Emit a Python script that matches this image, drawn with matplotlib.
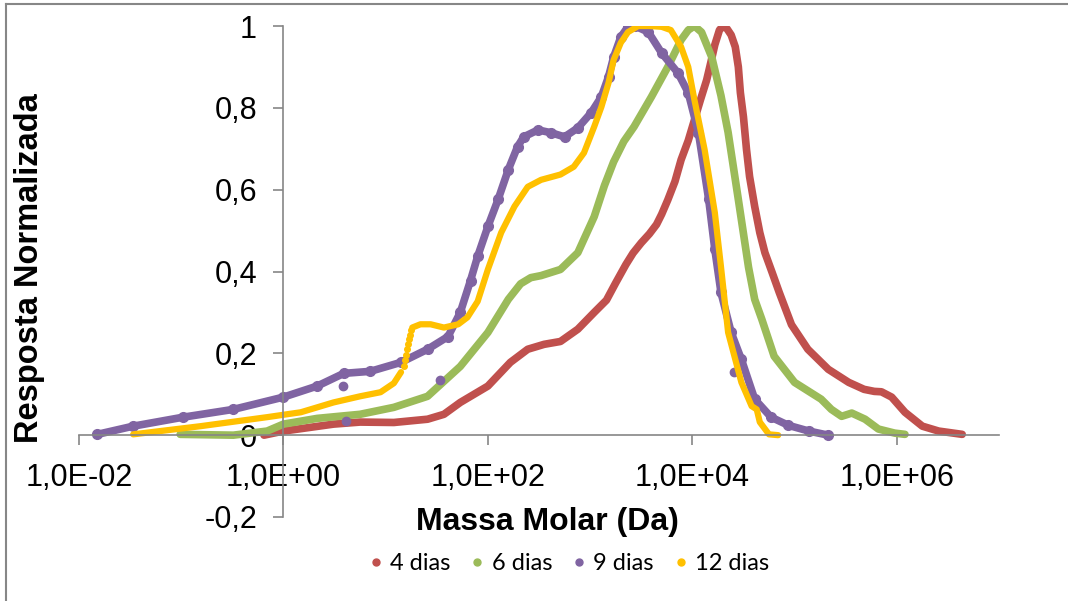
import numpy as np
import matplotlib
matplotlib.use("Agg")
import matplotlib.pyplot as plt
from matplotlib.lines import Line2D
from matplotlib.ticker import FixedLocator, NullLocator

# curvas de distribuicao de massa molar (log10 da massa, resposta normalizada)
lm_4 = [-0.19, 0.0, 0.49, 0.75, 1.08, 1.41, 1.57, 1.73, 2.0, 2.22, 2.39, 2.55, 2.71,
        2.88, 3.04, 3.16, 3.25, 3.35, 3.42, 3.50, 3.58, 3.65, 3.70, 3.76, 3.83, 3.89,
        3.96, 4.02, 4.08, 4.14, 4.18, 4.22, 4.265, 4.30, 4.34, 4.38, 4.42, 4.45, 4.47,
        4.50, 4.53, 4.56, 4.61, 4.66, 4.71, 4.78, 4.85, 4.97, 5.13, 5.33, 5.53, 5.68,
        5.78, 5.85, 5.95, 6.08, 6.25, 6.41, 6.64]
r_4 = [0.0, 0.010, 0.027, 0.032, 0.031, 0.039, 0.051, 0.080, 0.12, 0.178, 0.21, 0.222,
       0.229, 0.259, 0.30, 0.33, 0.372, 0.417, 0.445, 0.47, 0.492, 0.515, 0.54, 0.575,
       0.62, 0.673, 0.72, 0.77, 0.82, 0.868, 0.91, 0.954, 0.99, 1.0, 0.993, 0.978, 0.949,
       0.90, 0.837, 0.778, 0.698, 0.632, 0.559, 0.495, 0.446, 0.398, 0.349, 0.27, 0.21,
       0.161, 0.129, 0.112, 0.107, 0.106, 0.093, 0.056, 0.022, 0.010, 0.002]

lm_6 = [-1.01, -0.49, -0.16, 0.0, 0.33, 0.75, 1.08, 1.41, 1.73, 2.0, 2.20, 2.32, 2.42,
        2.52, 2.71, 2.88, 3.04, 3.14, 3.23, 3.33, 3.43, 3.60, 3.76, 3.89, 3.96, 4.02,
        4.09, 4.19, 4.28, 4.35, 4.45, 4.55, 4.61, 4.68, 4.80, 5.0, 5.26, 5.36, 5.46,
        5.56, 5.69, 5.82, 5.98, 6.08]
r_6 = [0.002, 0.0, 0.010, 0.027, 0.041, 0.051, 0.068, 0.095, 0.168, 0.251, 0.332, 0.37,
       0.385, 0.39, 0.405, 0.446, 0.534, 0.61, 0.668, 0.718, 0.754, 0.827, 0.90, 0.966,
       0.99, 1.0, 0.985, 0.924, 0.83, 0.74, 0.576, 0.41, 0.332, 0.283, 0.193, 0.129,
       0.088, 0.063, 0.046, 0.054, 0.039, 0.015, 0.005, 0.002]

lm_9 = [-1.82, -1.47, -0.98, -0.49, 0.0, 0.33, 0.59, 0.85, 1.15, 1.41, 1.61, 1.73, 1.83,
        1.90, 2.0, 2.10, 2.20, 2.29, 2.35, 2.49, 2.62, 2.75, 2.88, 3.01, 3.11, 3.18,
        3.23, 3.30, 3.37, 3.44, 3.57, 3.70, 3.86, 3.96, 4.06, 4.16, 4.22, 4.28, 4.38,
        4.48, 4.61, 4.77, 4.94, 5.14, 5.33]
r_9 = [0.002, 0.022, 0.044, 0.063, 0.093, 0.12, 0.151, 0.156, 0.178, 0.21, 0.241, 0.30,
       0.378, 0.437, 0.51, 0.576, 0.649, 0.705, 0.729, 0.746, 0.739, 0.729, 0.751, 0.788,
       0.827, 0.876, 0.924, 0.973, 0.998, 1.0, 0.985, 0.934, 0.885, 0.837, 0.739, 0.576,
       0.454, 0.349, 0.251, 0.185, 0.088, 0.044, 0.024, 0.010, 0.0]
# pontos soltos da amostra de 9 dias
lm_9_out = [0.58, 0.61, 1.53, 4.41]
r_9_out = [0.12, 0.034, 0.134, 0.154]

lm_12 = [-1.47, -0.81, -0.16, 0.17, 0.49, 0.75, 0.95, 1.08, 1.15]
r_12 = [0.002, 0.022, 0.044, 0.056, 0.080, 0.095, 0.105, 0.127, 0.154]
# salto com poucos pontos
lm_12_salto = [1.18, 1.19, 1.20, 1.21, 1.22, 1.23, 1.24, 1.25]
r_12_salto = [0.168, 0.183, 0.197, 0.210, 0.222, 0.234, 0.246, 0.256]
lm_12b = [1.26, 1.34, 1.44, 1.57, 1.71, 1.80, 1.90, 2.0, 2.13, 2.26, 2.39, 2.52, 2.71,
          2.84, 2.94, 3.04, 3.11, 3.18, 3.23, 3.30, 3.37, 3.47, 3.58, 3.70, 3.79, 3.89,
          3.96, 4.02, 4.12, 4.22, 4.28, 4.35, 4.48, 4.58, 4.63, 4.66, 4.75, 4.84]
r_12b = [0.263, 0.271, 0.271, 0.263, 0.271, 0.288, 0.327, 0.405, 0.495, 0.559, 0.607,
         0.624, 0.637, 0.656, 0.69, 0.754, 0.802, 0.861, 0.917, 0.959, 0.985, 1.0, 1.0,
         0.998, 0.99, 0.949, 0.90, 0.82, 0.698, 0.544, 0.412, 0.251, 0.129, 0.071, 0.063,
         0.032, 0.002, 0.0]

nomes = ['4 dias', '6 dias', '9 dias', '12 dias']
cores = ['#C0504D', '#9BBB59', '#8064A2', '#FFC000']

x_ticks = [1e-2, 1e0, 1e2, 1e4, 1e6]
x_labels = ['1,0E-02', '1,0E+00', '1,0E+02', '1,0E+04', '1,0E+06']
y_ticks = [-0.2, 0, 0.2, 0.4, 0.6, 0.8, 1]
y_labels = ['-0,2', '0', '0,2', '0,4', '0,6', '0,8', '1']

W, H = 1068, 601
fig = plt.figure(figsize=(W / 100, H / 100), dpi=100)
ax = fig.add_axes([79 / W, 1 - 517 / H, 920 / W, 491 / H])

def m(lm):
    return 10 ** np.array(lm)

kw = dict(solid_capstyle='round', solid_joinstyle='round')
ax.plot(m(lm_4), r_4, color=cores[0], lw=5.5, **kw)
ax.plot(m(lm_6), r_6, color=cores[1], lw=5.5, **kw)
ax.plot(m(lm_9), r_9, color=cores[2], lw=5.5, **kw)
ax.plot(m(lm_9), r_9, 'o', color=cores[2], ms=7)
ax.plot(m(lm_9_out), r_9_out, 'o', color=cores[2], ms=6)
ax.plot(m(lm_12), r_12, color=cores[3], lw=4.5, **kw)
ax.plot(m(lm_12_salto), r_12_salto, 'o', color=cores[3], ms=4)
ax.plot(m(lm_12b), r_12b, color=cores[3], lw=4.5, **kw)

ax.set_xscale('log')
ax.set_xlim(1e-2, 1e7)
ax.set_ylim(-0.2, 1)
ax.patch.set_alpha(0)

for s in ['top', 'right']:
    ax.spines[s].set_visible(False)
ax.spines['left'].set_position(('data', 1))
ax.spines['bottom'].set_position(('data', 0))
for s in ['left', 'bottom']:
    ax.spines[s].set_color('#868686')
    ax.spines[s].set_linewidth(1.2)

ax.xaxis.set_major_locator(FixedLocator(x_ticks))
ax.xaxis.set_minor_locator(NullLocator())
ax.set_xticklabels(x_labels, fontsize=22, family='Liberation Sans')
ax.set_yticks(y_ticks)
ax.set_yticklabels(y_labels, fontsize=22, family='Liberation Sans')
ax.tick_params(axis='both', direction='out', length=7, width=1.2, color='#868686')
ax.tick_params(axis='x', pad=13)
ax.tick_params(axis='y', pad=12)

fig.text(547 / W, 1 - 530 / H, 'Massa Molar (Da)', ha='center', va='baseline',
         fontsize=23, fontweight='bold', family='Liberation Sans')
fig.text(30 / W, 1 - 268 / H, 'Resposta Normalizada', ha='center', va='center',
         rotation=90, fontsize=23.5, fontweight='bold', family='Liberation Sans')

handles = [Line2D([], [], ls='', marker='o', ms=5, color=c) for c in cores]
fig.legend(handles, nomes, loc='center', bbox_to_anchor=(569 / W, 1 - 564 / H), ncol=4,
           frameon=False, handletextpad=0.3, columnspacing=0.85, handlelength=0.6,
           prop={'family': 'Lato', 'size': 17})

# borda do grafico
fig.add_artist(Line2D([6 / W, 6 / W], [0, 1 - 4 / H], color='#878787', lw=1.5))
fig.add_artist(Line2D([6 / W, 1], [1 - 4 / H, 1 - 4 / H], color='#878787', lw=1.5))

fig.savefig('out.png', dpi=100)
